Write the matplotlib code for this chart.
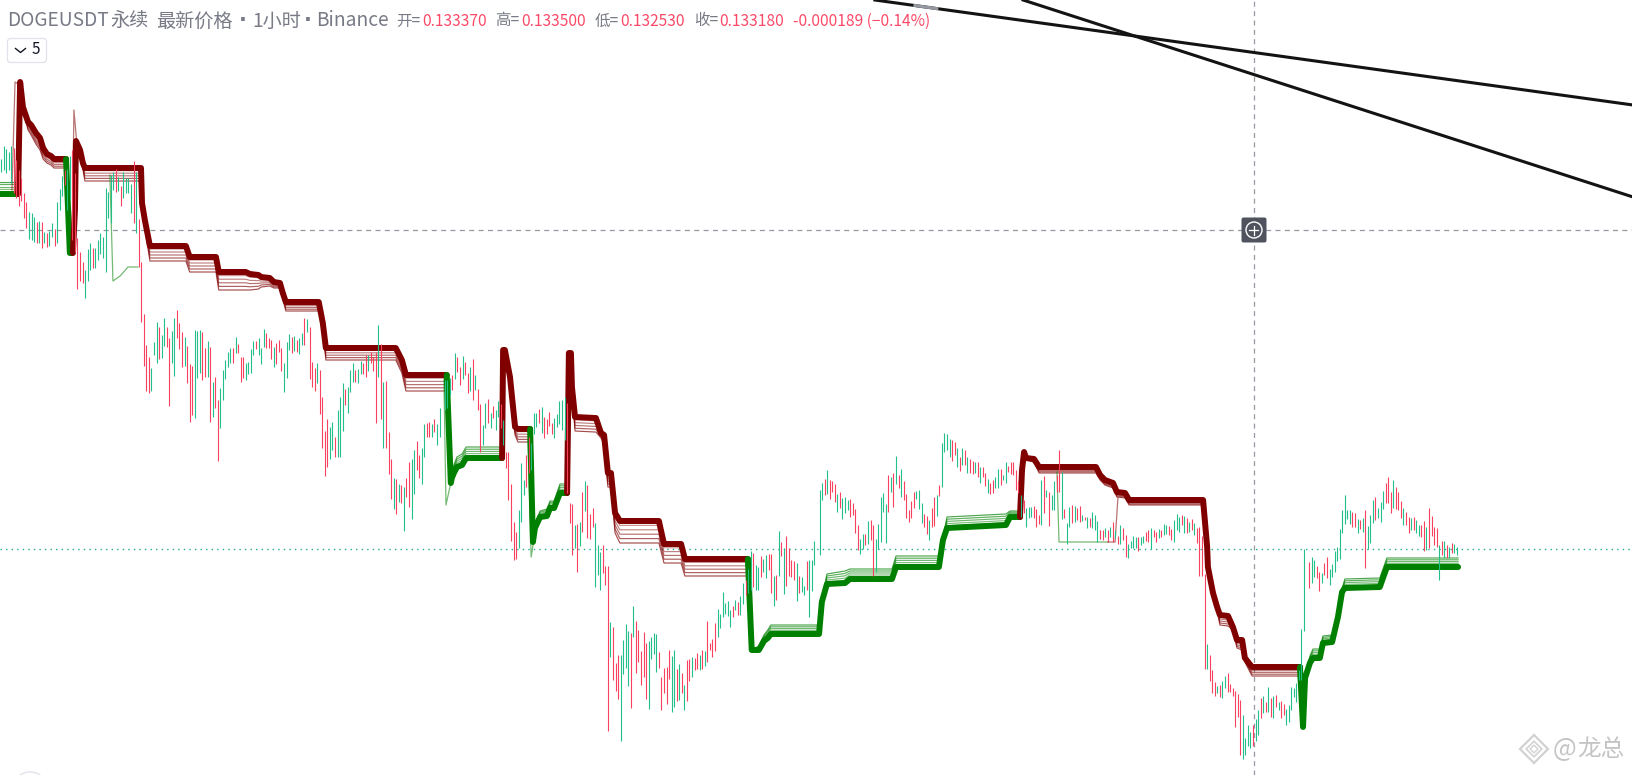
import matplotlib
matplotlib.use("Agg")
import matplotlib.pyplot as plt
from matplotlib.patches import FancyBboxPatch, Circle, RegularPolygon
import numpy as np

plt.rcParams['font.family'] = ['Noto Sans CJK SC', 'DejaVu Sans']

# Price is stored as integer ticks: price = BASE + ticks * TICK
BASE = 0.0971
TICK = 0.00008

# ---------- hourly bars, in runs (start hour, highs, lows, direction g/r) ----------
start_a = 0
high_a = [841,854,851,848,854,852,840,830,822,807,798,788,787,783,778,779,778,768,767,769,777,771,798,811,824,830,831,844,850,827,762,748,738,730,751,757,752,752,760,767,763,812,808,825,828,831,823,814,828,822,822,816,839,828,781,738,686,655,643,632,658,678,673,665,682,673,662,669,682,690,677,668,663]
low_a = [828,830,827,830,817,807,802,794,799,782,772,761,760,758,757,757,752,757,753,754,763,754,757,790,804,815,790,800,760,748,711,719,717,702,719,730,732,732,740,746,742,728,782,777,810,808,809,794,802,807,807,787,777,767,733,678,634,609,607,609,645,637,641,642,654,653,594,637,624,662,651,633,634]
dir_a = "gggggrrrrrrgggrgrgrggrgggrggrrrrrgggrggggggggrgrggggrgrrrrrgggrggrrggrrrg"[:73]

start_b = 73
high_b = [654,636,634,670,669,670,668,652,659,653,618,623,600,612,630,640,648,652,652,663,656,643,643,637,638,651,659,659,662,652,671,667,662,660,653,657,660,652,637,658,666,663,664,660,662,667,682,681,673,638,632,637,630,603,569,581,573,578,563,590,603,617,611,613,630,637,630,631,639,637,645,645,648,643,648,675,656,618,619,568,541,522,521,516,515,513,522,538,541,550,559,545,552,576,577,578,576,581,576,592]
low_b = [617,578,585,582,622,627,620,623,623,578,583,592,539,572,600,621,633,637,637,647,647,618,622,620,626,627,645,651,645,636,653,652,652,641,633,636,648,629,608,622,650,647,649,648,646,655,655,668,621,613,609,617,586,552,524,533,541,550,543,543,543,569,595,587,608,618,618,617,626,626,623,629,637,629,577,623,581,552,552,526,501,491,486,498,497,469,503,493,481,506,530,522,516,543,563,563,563,568,555,563]
dir_b = "rrrgggrrgrgrrgggggrgrrrggggrgggrrrgrrrgggrgrggrgrrrgrrrrggrgggrgggrggrrgrrrgrgrrrgrgrgrrggrrggrrgrg"

start_c = 174
high_c = [620,620,622,625,647,643,633,644,638,627,633,641,625,611,596,575,597,601,587,594,590,599,596,580,548,548,516,478,468,490,537,520,545,563,557,587,587,591,593,583,581,588,577,582,586,599,600,603,597,497,496,475,476,478,508,519,515,486,492,477,455]
low_c = [590,592,605,610,621,628,615,621,625,607,609,600,610,590,548,555,572,577,572,582,570,583,572,555,532,500,459,440,441,452,478,505,513,527,530,566,573,577,567,562,566,574,566,562,573,576,570,560,507,477,445,452,428,454,468,489,462,461,473,413,425]
dir_c = "gggrgrrgrrgrgrrggrgrggrgrrrrrgggrrgggrgrrrrgggggrrrgrgrgrr"+"rg"

start_d = 235
high_d = [448,455,434,434,378,373,337,345,345,360,376,369,367,394,379,370,349,368,357,359,363,367,366,348,323,332,333,350,344,350,331,336,327,315,340,341,343,342,347,345,350,349,379,357,361,377,391,386,408,397,399,390,394,400,398,404,417,420,431,449,447,435,433,444,441,445,446,446,424,425,469,458,452,464,452,440,439,437,424,423,414,439,440,440,459]
low_d = [410,427,415,269,343,320,309,301,259,326,332,314,292,363,327,338,315,323,301,291,341,346,328,332,290,307,296,321,288,293,299,300,307,290,299,319,323,330,331,330,331,334,338,350,343,349,363,372,383,386,384,373,383,390,385,385,396,405,407,410,413,410,410,423,428,422,430,407,394,400,424,444,406,414,424,423,420,399,407,408,405,410,383,409,435]
dir_d = "grrrgrrrggggrgrrrrrggggrrrrrggrgrgrrgrrgrgrrrrggggggrgrggrggrggrggrrgrgrgrrrrgrggrgg"

start_e = 321
high_e = [510,517,521,530,520,519,516,506,508,502,503,500,501,497,491,475,461,466,466,479,480,475,461,476,503,507,496,525,523,527,544,525,531,519,506,490,499,508,509,510,497,486,484,480,492,503,505,515,557,567,566,561,560,558,552,543,552,550,543,541,539,538,538,533,533,527,521,517,520,523,531,531,525,538,534,538,538,530,519,505,500,492,493,493,494,491,485,520,524,510,508,505,519,525,550,528,491,477,493,495,494,492,494,485,483,483,482,488,485,479,470]
low_e = [445,500,505,506,501,508,498,488,492,481,487,490,483,485,467,450,446,451,455,456,460,424,428,451,458,488,457,488,508,493,516,512,503,500,482,478,482,492,501,491,477,473,466,460,473,474,484,504,513,548,550,543,539,545,533,529,535,535,527,527,526,527,523,517,523,514,507,506,507,512,512,515,520,517,528,526,525,510,507,483,487,473,482,483,482,473,476,475,487,503,474,490,490,508,508,481,482,456,473,477,478,480,478,479,480,472,473,472,470,458,461]
dir_e = "ggrgrrrgrgggrrrrggrgrrgggggrgrgrgrrrrrgggrrgrrgrggggrrgrgrgrrgrgrrgrrggrggrrrrrgrgggrrrgrgrggrrgrggrgrrgrgrgg"[:111]

start_f = 431
high_f = [470,470,472,470,473,478,470,464,475,472,465,456,459,464,463,463,463,464,468,470,472,470,468,471,470,476,475,474,471,480,486,483,485,484,482,478,481,477,472,473,464,426,356,345,330,318,314,315,319,324,327,316,312,309,306,300,285,262,275,268,275,281,290,302,304,298,313,302,304,305,298,299,296,291,295,313,312,317,330,371,451]
low_f = [461,460,463,458,463,458,462,456,456,460,443,442,452,452,452,449,455,457,459,458,451,463,458,462,463,465,466,465,460,458,470,468,475,467,467,468,470,465,457,424,424,331,331,319,307,304,307,303,302,312,308,308,304,273,283,245,241,245,254,252,254,259,265,282,287,288,288,283,282,293,290,282,285,275,278,290,303,298,320,320,369]
dir_f = "rrgrgrgrgrrggggrggrrgrrgrggrrgggrgrgrgrrrrgrrrgrggrrrrrrggggrggrgrgrgrgrrggggggg"[:81]

start_g = 513
high_g = [438,443,440,434,428,427,437,443,431,436,449,453,471,490,505,490,490,488,487,481,480,482,490,474,485,500,503,492,498,509,517,523,508,520,513,508,499,492,488,483,482,483,480,475,475,479,473,492,484,473,472,455,459,459,455,453,457,456,453]
low_g = [412,417,423,422,409,417,425,422,415,423,428,439,441,467,476,481,476,473,473,467,471,468,432,451,457,477,480,482,478,491,497,497,487,492,491,490,482,475,475,467,470,470,467,464,463,449,450,452,464,455,453,420,445,442,442,442,447,447,445]
dir_g = "rggrrgrrgggggggggrrgrgrgggrgggrrrgrrrgrrgrggrrgrrrrgrgrgrg"[:59]

bar_runs = [(start_a, high_a, low_a, dir_a), (start_b, high_b, low_b, dir_b),
            (start_c, high_c, low_c, dir_c), (start_d, high_d, low_d, dir_d),
            (start_e, high_e, low_e, dir_e), (start_f, high_f, low_f, dir_f),
            (start_g, high_g, low_g, dir_g)]

# ---------- ribbon indicator: vertices (hour, ticks, ribbon depth in ticks) ----------
g1_h = [-1, 6.3]
g1_l = [806, 806]
g1_d = [12, 12]
r1_h = [6.7,7.5,8.6,10.6,11.8,13.7,15.3,16.5,18,19.6,20.8,25.5]
r1_l = [806,918,893,878,875,867,862,852,846,844,841,841]
r1_d = [0,0,3,8,10,11,12,11,9,9,9,9]
g2_h = [25.5,27,27.8]
g2_l = [841,747,747]
g2_d = [0,0,0]
r2_h = [28.2,29,29.4,31,32.1,32.9,54.9,55.3,56.4,58.4,72.5,74,84.3,85.4,96,97.6,101,102,105.4,107,109.4,110.5,111.7,124.6,126.2,127.4,154.8,157.2,158.8,174.8]
r2_l = [747,790,859,850,837,832,832,797,780,754,754,743,743,728,728,726,725,723,722,718,717,707,698,698,677,652,652,640,625,625]
r2_d = [0,0,0,2,6,13,13,3,8,15,15,15,15,18,18,16,14,10,8,6,5,6,9,9,6,12,12,13,16,16]
g3_h = [174.8,176.4,176.8,177.6,178.8,180.8,182.4,196.5]
g3_l = [625,517,522,527,533,535,542,542]
g3_d = [0,0,6,8,10,11,11,11]
r3_h = [196.5,196.9,197.6,199.6,201.6,202.7,207.5]
r3_l = [542,650,650,623,573,571,571]
r3_d = [0,0,1,2,8,13,13]
g4_h = [207.5,208.6,209.4,211.4,214.1,215.3,216.9,219.2,222]
g4_l = [571,458,472,483,484,492,492,507,507]
g4_d = [0,0,4,6,7,7,7,9,9]
r4_h = [222,222.7,223.5,223.9,225.1,232.9,233.3,235.3,236.5,238,239.2,240.8,242.7,258,260,266.7,268.2,292.9]
r4_l = [507,647,647,613,583,582,582,567,565,527,527,487,479,479,456,456,441,441]
r4_d = [0,0,0,2,14,14,14,5,10,14,14,20,22,22,19,19,17,17]
g5_h = [292.9,294.4,297.2,299.2,300.7,301.9,320.8,321.9,323.9,331,332.9,349.4,351,367.8,369.4,371,394.1,395.7,399.6]
g5_l = [441,350,350,359,362,366,366,398,416,417,421,421,433,433,460,472,475,483,483]
g5_d = [0,0,4,6,8,9,9,1,10,12,10,10,11,11,3,11,11,6,6]
r5_h = [399.6,400.4,401.2,402,405.1,407.1,429.4,431,432.9,436.1,437.6,440.8,442.4,471.4,473,473.3,475.3,476.9,478,481.2,483.1,484.7,486.7,487.8,490.6,509.4]
r5_l = [483,530,548,542,541,533,533,525,520,517,508,507,500,500,453,433,407,393,385,384,373,360,360,342,333,333]
r5_d = [0,0,0,2,3,6,6,5,5,5,5,5,5,5,0,1,1,3,10,10,3,8,10,4,9,9]
g6_h = [509.4,510.6,511.4,513.3,514.5,517.2,518.4,522,524.3,525.9,527,540.7,543.5,571.4]
g6_l = [333,273,322,337,342,342,357,358,383,408,412,413,433,433]
g6_d = [0,0,3,7,9,9,7,7,1,3,9,9,9,9]

segments = [('g',g1_h,g1_l,g1_d),('r',r1_h,r1_l,r1_d),('g',g2_h,g2_l,g2_d),('r',r2_h,r2_l,r2_d),
            ('g',g3_h,g3_l,g3_d),('r',r3_h,r3_l,r3_d),('g',g4_h,g4_l,g4_d),('r',r4_h,r4_l,r4_d),
            ('g',g5_h,g5_l,g5_d),('r',r5_h,r5_l,r5_d),('g',g6_h,g6_l,g6_d)]

# faint lagging strands
strand_g1_h = [42.7,43.9,46.7,49.8,53.7];  strand_g1_l = [825,719,724,733,733]
strand_r1_h = [4.3,5.5,7.5];               strand_r1_l = [810,918,915]
strand_r2_h = [28.2,28.6,30.2];            strand_r2_l = [813,890,843]
strand_g3_h = [173.7,174.5,176.9];         strand_g3_l = [620,495,523]
strand_g4_h = [206.7,207.9,209.4];         strand_g4_l = [560,443,467]
strand_g5_h = [414.1,414.9,434.1];         strand_g5_l = [528,458,458]
strand_r5_h = [434.1,436.9,438];           strand_r5_l = [458,458,502]

# drawn trend lines and cursor
trend1_h = [342.7, 640];  trend1_l = [1000, 895]
trend2_h = [400.8, 640];  trend2_l = [1000, 803]
trend1_hover_h = [358.4, 367]; trend1_hover_l = [994.5, 991.4]
cursor_h = 491.4
cursor_l = 770
last_close = 0.13318

UP, DOWN = '#22bf8b', '#f7415f'
DARK_R, DARK_G = '#800000', '#008000'

def price(t):
    return BASE + np.asarray(t, dtype=float) * TICK

fig = plt.figure(figsize=(16.33, 7.75), dpi=100, facecolor='white')
ax = fig.add_axes([0, 0, 1, 1])
ax.set_xlim(-0.392, 640.0)
ax.set_ylim(price(225), price(1000))
ax.axis('off')

# cursor + last price
ax.axvline(cursor_h, color='#9598a1', lw=0.9, dashes=(4, 3.5), zorder=1)
ax.axhline(price(cursor_l), color='#9598a1', lw=0.9, dashes=(4, 3.5), zorder=1)
ax.axhline(last_close, color='#22ab94', lw=1.0, dashes=(1, 3), zorder=1)

# ribbon
for kind, h, l, d in segments:
    col = DARK_R if kind == 'r' else DARK_G
    sign = -1 if kind == 'r' else 1
    l_arr, d_arr = np.array(l, float), np.array(d, float)
    for k in (1, 2, 3, 4, 5):
        ax.plot(h, price(l_arr + sign * d_arr * k / 5), color=col, lw=0.85,
                alpha=0.35 + 0.07 * k, solid_joinstyle='round', zorder=2)
    ax.plot(h, price(l_arr), color=col, lw=4.3, solid_capstyle='round',
            solid_joinstyle='round', zorder=3)

for h, l, col in [(strand_g1_h, strand_g1_l, DARK_G), (strand_g3_h, strand_g3_l, DARK_G),
                  (strand_g4_h, strand_g4_l, DARK_G), (strand_g5_h, strand_g5_l, DARK_G),
                  (strand_r1_h, strand_r1_l, DARK_R), (strand_r2_h, strand_r2_l, DARK_R),
                  (strand_r5_h, strand_r5_l, DARK_R)]:
    ax.plot(h, price(l), color=col, lw=0.9, alpha=0.55, zorder=2)

# bars
for start, hi, lo, dirs in bar_runs:
    n = min(len(hi), len(lo))
    dirs = (dirs + 'g' * n)[:n]
    xs = start + np.arange(n)
    cols = [UP if c == 'g' else DOWN for c in dirs]
    ax.vlines(xs, price(lo[:n]), price(hi[:n]), colors=cols, lw=0.8, zorder=4)

# trend lines
ax.plot(trend1_h, price(trend1_l), color='#131313', lw=2.2, zorder=5)
ax.plot(trend2_h, price(trend2_l), color='#131313', lw=2.2, zorder=5)
ax.plot(trend1_hover_h, price(trend1_hover_l), color='#9598a1', lw=2.2, zorder=6)

# ---------- chrome, positioned in pixels on an overlay ----------
ov = fig.add_axes([0, 0, 1, 1], facecolor='none')
ov.set_xlim(0, 1633); ov.set_ylim(775, 0); ov.axis('off')

GREY, RED = '#787b86', '#fb4a68'
for x, s in [(7, 'DOGEUSDT'), (110, '永续'), (156, '最新价格'), (252, '1小时'), (316, 'Binance')]:
    ov.text(x, 21, s, color=GREY, fontsize=13.8, va='center')
for x in (243, 308):
    ov.text(x, 20, '·', color=GREY, fontsize=15, va='center', ha='center',
            family='DejaVu Sans', fontweight='bold')
for x, s, c in [(396, '开=', GREY), (422, '0.133370', RED), (495, '高=', GREY), (521, '0.133500', RED),
                (595, '低=', GREY), (620, '0.132530', RED), (694, '收=', GREY), (719, '0.133180', RED),
                (793, '-0.000189 (−0.14%)', RED)]:
    ov.text(x, 21, s, color=c, fontsize=11.2, va='center')

ov.add_patch(FancyBboxPatch((7.5, 38.5), 39, 24, boxstyle='round,pad=0,rounding_size=3',
                            fc='white', ec='#e0e3eb', lw=0.9))
ov.plot([15.5, 20.5, 25.5], [48.5, 52.5, 48.5], color='#131722', lw=1.0)
ov.text(36, 50, '5', color='#131722', fontsize=11, ha='center', va='center')

# plus button
ov.add_patch(FancyBboxPatch((1241.5, 217.5), 25, 25, boxstyle='round,pad=0,rounding_size=2',
                            fc='#50535e', ec='none', zorder=7))
ov.add_patch(Circle((1254, 230), 8, fc='none', ec='white', lw=1.0, zorder=8))
ov.plot([1249.5, 1258.5], [230, 230], color='white', lw=0.9, zorder=8)
ov.plot([1254, 1254], [225.5, 234.5], color='white', lw=0.9, zorder=8)

# bottom-left arc
ov.add_patch(Circle((30, 790), 18, fc='none', ec='#e0e3eb', lw=1.0))

# watermark
for size, w in [(18, 1.6), (10, 1.2), (5, 1.0)]:
    ov.add_patch(RegularPolygon((1534, 749), 4, radius=size * 0.78, fc='none', ec='#d2d2d2', lw=w))
ov.text(1564, 749, '@', color='#c4c4c4', fontsize=18, ha='center', va='center')
ov.text(1601, 749, '龙总', color='#c4c4c4', fontsize=17, ha='center', va='center')

fig.savefig('out.png', dpi=100)
